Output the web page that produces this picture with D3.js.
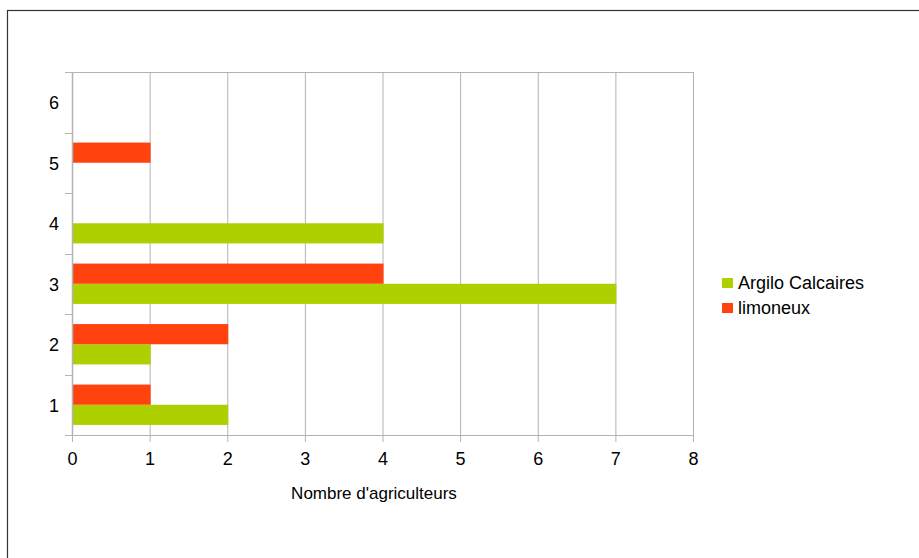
<!DOCTYPE html>
<html>
<head>
<meta charset="utf-8">
<script src="https://cdn.jsdelivr.net/npm/d3@7"></script>
<style>
  body { margin: 0; background: #fff; }
  text { font-family: "Liberation Sans", Arial, sans-serif; fill: #000; }
</style>
</head>
<body>
<div id="chart"></div>
<script>
const categories = ["1", "2", "3", "4", "5", "6"];
const seriesNames = ["Argilo Calcaires", "limoneux"];
const argiloCalcaires = [2, 1, 7, 4, 0, 0];
const limoneux = [1, 2, 4, 0, 1, 0];
const xTicks = [0, 1, 2, 3, 4, 5, 6, 7, 8];
const colors = ["#aecf00", "#ff420e"];

const width = 919, height = 558;
const plot = { left: 72, right: 693, top: 72, bottom: 435 };

const svg = d3.select("#chart").append("svg")
  .attr("width", width)
  .attr("height", height);

// outer frame (runs off the right and bottom edge)
svg.append("rect")
  .attr("x", 7.5).attr("y", 10.5)
  .attr("width", 940).attr("height", 600)
  .attr("fill", "none")
  .attr("stroke", "#333")
  .attr("stroke-width", 1.2);

const x = d3.scaleLinear().domain([0, 8]).range([plot.left, plot.right]);
const y = d3.scaleBand().domain(categories.slice().reverse()).range([plot.top, plot.bottom]);
const inner = d3.scaleBand().domain(seriesNames.slice().reverse())
  .range([0, y.bandwidth()]).paddingOuter(0.5);

// vertical grid lines
svg.append("g").selectAll("line")
  .data(xTicks)
  .join("line")
  .attr("x1", d => x(d) + 0.5).attr("x2", d => x(d) + 0.5)
  .attr("y1", plot.top).attr("y2", plot.bottom + 7)
  .attr("stroke", "#b3b3b3");

// top border of plot
svg.append("line")
  .attr("x1", plot.left - 7).attr("x2", plot.right)
  .attr("y1", plot.top + 0.5).attr("y2", plot.top + 0.5)
  .attr("stroke", "#b3b3b3");

// bars
const series = [argiloCalcaires, limoneux];
series.forEach((vals, si) => {
  svg.append("g").selectAll("rect")
    .data(vals.map((v, i) => ({ cat: categories[i], v })))
    .join("rect")
    .attr("x", x(0) + 1)
    .attr("y", d => y(d.cat) + inner(seriesNames[si]))
    .attr("width", d => Math.max(0, x(d.v) - x(0)))
    .attr("height", inner.bandwidth())
    .attr("fill", colors[si]);
});

// y axis line and category ticks
svg.append("line")
  .attr("x1", plot.left + 0.5).attr("x2", plot.left + 0.5)
  .attr("y1", plot.top).attr("y2", plot.bottom)
  .attr("stroke", "#b3b3b3").attr("stroke-width", 1.5);

const yEdges = categories.map(c => y(c)).concat([plot.bottom]);
svg.append("g").selectAll("line")
  .data(yEdges)
  .join("line")
  .attr("x1", plot.left - 7).attr("x2", plot.left)
  .attr("y1", d => Math.round(d) + 0.5).attr("y2", d => Math.round(d) + 0.5)
  .attr("stroke", "#b3b3b3");

// x axis line
svg.append("line")
  .attr("x1", plot.left - 7).attr("x2", plot.right)
  .attr("y1", plot.bottom + 0.5).attr("y2", plot.bottom + 0.5)
  .attr("stroke", "#b3b3b3");

// y labels
svg.append("g").selectAll("text")
  .data(categories)
  .join("text")
  .attr("x", 59)
  .attr("y", d => y(d) + y.bandwidth() / 2 + 7)
  .attr("text-anchor", "end")
  .attr("font-size", 18)
  .text(d => d);

// x labels
svg.append("g").selectAll("text")
  .data(xTicks)
  .join("text")
  .attr("x", d => x(d) + 0.5)
  .attr("y", 465)
  .attr("text-anchor", "middle")
  .attr("font-size", 18)
  .text(d => d);

// axis title
svg.append("text")
  .attr("x", 374)
  .attr("y", 499)
  .attr("text-anchor", "middle")
  .attr("font-size", 17)
  .text("Nombre d'agriculteurs");

// legend
const legend = svg.append("g").attr("transform", "translate(722, 278)");
seriesNames.forEach((name, i) => {
  legend.append("rect")
    .attr("x", 0).attr("y", i * 25)
    .attr("width", 11).attr("height", 10)
    .attr("fill", colors[i]);
  legend.append("text")
    .attr("x", 16).attr("y", i * 25 + 11)
    .attr("font-size", 18)
    .text(name);
});
</script>
</body>
</html>
